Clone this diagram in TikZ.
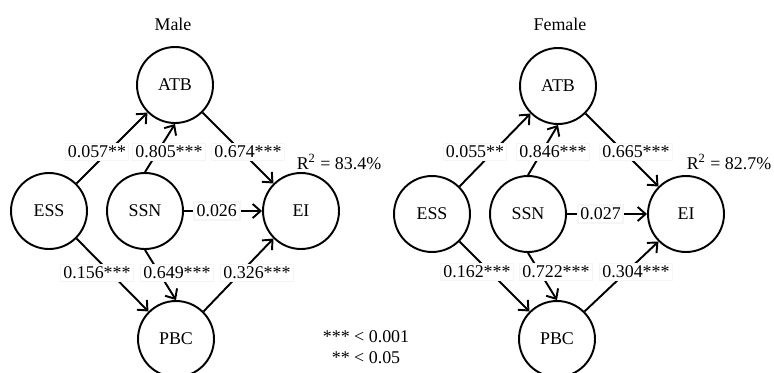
\documentclass[tikz,border=0pt]{standalone}
\usepackage{fontspec}
\setmainfont{Liberation Serif}
\usetikzlibrary{arrows.meta}

\tikzset{
    construct/.style={draw, circle, line width=1.1pt, minimum size=1.52cm, inner sep=0pt},
    effect/.style={-{Straight Barb[length=4.5pt,width=8pt]}, line width=1.1pt},
    coef/.style={fill=white, draw=black!4, inner sep=1.5pt},
}

\begin{document}
\begin{tikzpicture}[x=0.02cm, y=-0.02cm, font=\fontsize{10.2}{12}\selectfont]
  \useasboundingbox (0,0) rectangle (774,372);

  % Male
  \node (m-title) at (173,24) {Male};
  \node[construct] (m-atb) at (175,85) {ATB};
  \node[construct] (m-ess) at (49,211) {ESS};
  \node[construct] (m-ssn) at (145,211) {SSN};
  \node[construct] (m-ei) at (301,211) {EI};
  \node[construct] (m-pbc) at (176,339) {PBC};

  \draw[effect] (m-ess.north east) -- (m-atb.south west);
  \draw[effect] (m-ssn.north) -- (m-atb.south);
  \draw[effect] (m-atb.south east) -- (m-ei.north west);
  \draw[effect] (m-ess.south east) -- (m-pbc.north west);
  \draw[effect] (m-ssn.south) -- (m-pbc.north);
  \draw[effect] (m-pbc.north east) -- (m-ei.south west);
  \draw[effect] (m-ssn) -- node[coef, pos=0.42] (m-c7) {0.026} (m-ei);

  % Male coefficients
  \node[coef] (m-c1) at (97,152) {0.057**};
  \node[coef] (m-c2) at (169,152) {0.805***};
  \node[coef] (m-c3) at (248,152) {0.674***};
  \node[coef] (m-c4) at (97,273) {0.156***};
  \node[coef] (m-c5) at (177,273) {0.649***};
  \node[coef] (m-c6) at (257,273) {0.326***};
  \node (m-r2) at (339,162) {R\textsuperscript{2} = 83.4\%};

  % Female
  \node (f-title) at (560,24) {Female};
  \node[construct] (f-atb) at (558,86) {ATB};
  \node[construct] (f-ess) at (432,214) {ESS};
  \node[construct] (f-ssn) at (528,214) {SSN};
  \node[construct] (f-ei) at (686,214) {EI};
  \node[construct] (f-pbc) at (557,339) {PBC};

  \draw[effect] (f-ess.north east) -- (f-atb.south west);
  \draw[effect] (f-ssn.north) -- (f-atb.south);
  \draw[effect] (f-atb.south east) -- (f-ei.north west);
  \draw[effect] (f-ess.south east) -- (f-pbc.north west);
  \draw[effect] (f-ssn.south) -- (f-pbc.north);
  \draw[effect] (f-pbc.north east) -- (f-ei.south west);
  \draw[effect] (f-ssn) -- node[coef, pos=0.42] (f-c7) {0.027} (f-ei);

  % Female coefficients
  \node[coef] (f-c1) at (475,152) {0.055**};
  \node[coef] (f-c2) at (553,152) {0.846***};
  \node[coef] (f-c3) at (636,152) {0.665***};
  \node[coef] (f-c4) at (477,272) {0.162***};
  \node[coef] (f-c5) at (556,272) {0.722***};
  \node[coef] (f-c6) at (636,272) {0.304***};
  \node (f-r2) at (729,162) {R\textsuperscript{2} = 82.7\%};

  % Significance
  \node[align=center] (legend) at (366,347) {*** < 0.001\\** < 0.05};
\end{tikzpicture}
\end{document}
